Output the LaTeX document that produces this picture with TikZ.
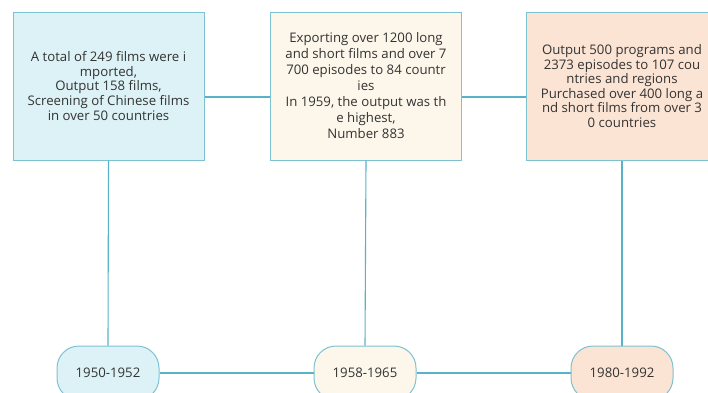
\documentclass[tikz,border=0pt]{standalone}
\usepackage{fontspec}
\setmainfont{Open Sans}
\definecolor{linec}{HTML}{5AB2C8}
\definecolor{edgec}{HTML}{7DC2D2}
\definecolor{fa}{HTML}{DDF2F6}
\definecolor{fb}{HTML}{FCF7EA}
\definecolor{fc}{HTML}{FBE4D4}
\definecolor{txt}{HTML}{333333}
\begin{document}
\begin{tikzpicture}[x=1pt,y=-1pt,
  infobox/.style={draw=edgec,line width=1pt,minimum width=191pt,minimum height=148pt,align=center,text=txt,font=\fontsize{13.2}{14.6}\selectfont,inner sep=2pt},
  yearbox/.style={draw=edgec,line width=1pt,rounded corners=22pt,minimum width=102pt,minimum height=54pt,text=txt,font=\fontsize{13.2}{14}\selectfont},
  conn/.style={draw=linec,line width=1.1pt}]
\useasboundingbox (0,0) rectangle (708,392);
\clip (0,0) rectangle (708,392);
\fill[white] (0,0) rectangle (708,392);
\node[infobox,fill=fa] (b1) at (108.5,86) {A total of 249 films were i\\mported,\\Output 158 films,\\Screening of Chinese films\\in over 50 countries};
\node[infobox,fill=fb,font=\fontsize{13.2}{16}\selectfont] (b2) at (366,86) {Exporting over 1200 long\\and short films and over 7\\700 episodes to 84 countr\\ies\\In 1959, the output was th\\e highest,\\Number 883};
\node[infobox,fill=fc] (b3) at (622,86) {Output 500 programs and\\2373 episodes to 107 cou\\ntries and regions\\Purchased over 400 long a\\nd short films from over 3\\0 countries};
\node[yearbox,fill=fa] (y1) at (108,373) {1950-1952};
\node[yearbox,fill=fb] (y2) at (365,373) {1958-1965};
\node[yearbox,fill=fc] (y3) at (622,373) {1980-1992};
\draw[conn] ([yshift=-11pt]b1.east) -- ([yshift=-11pt]b2.west);
\draw[conn] ([yshift=-11pt]b2.east) -- ([yshift=-11pt]b3.west);
\draw[conn] (b1.south) -- (y1.north);
\draw[conn] (b2.south) -- (y2.north);
\draw[conn] (b3.south) -- (y3.north);
\draw[conn] (y1.east) -- (y2.west);
\draw[conn] (y2.east) -- (y3.west);
\end{tikzpicture}
\end{document}
